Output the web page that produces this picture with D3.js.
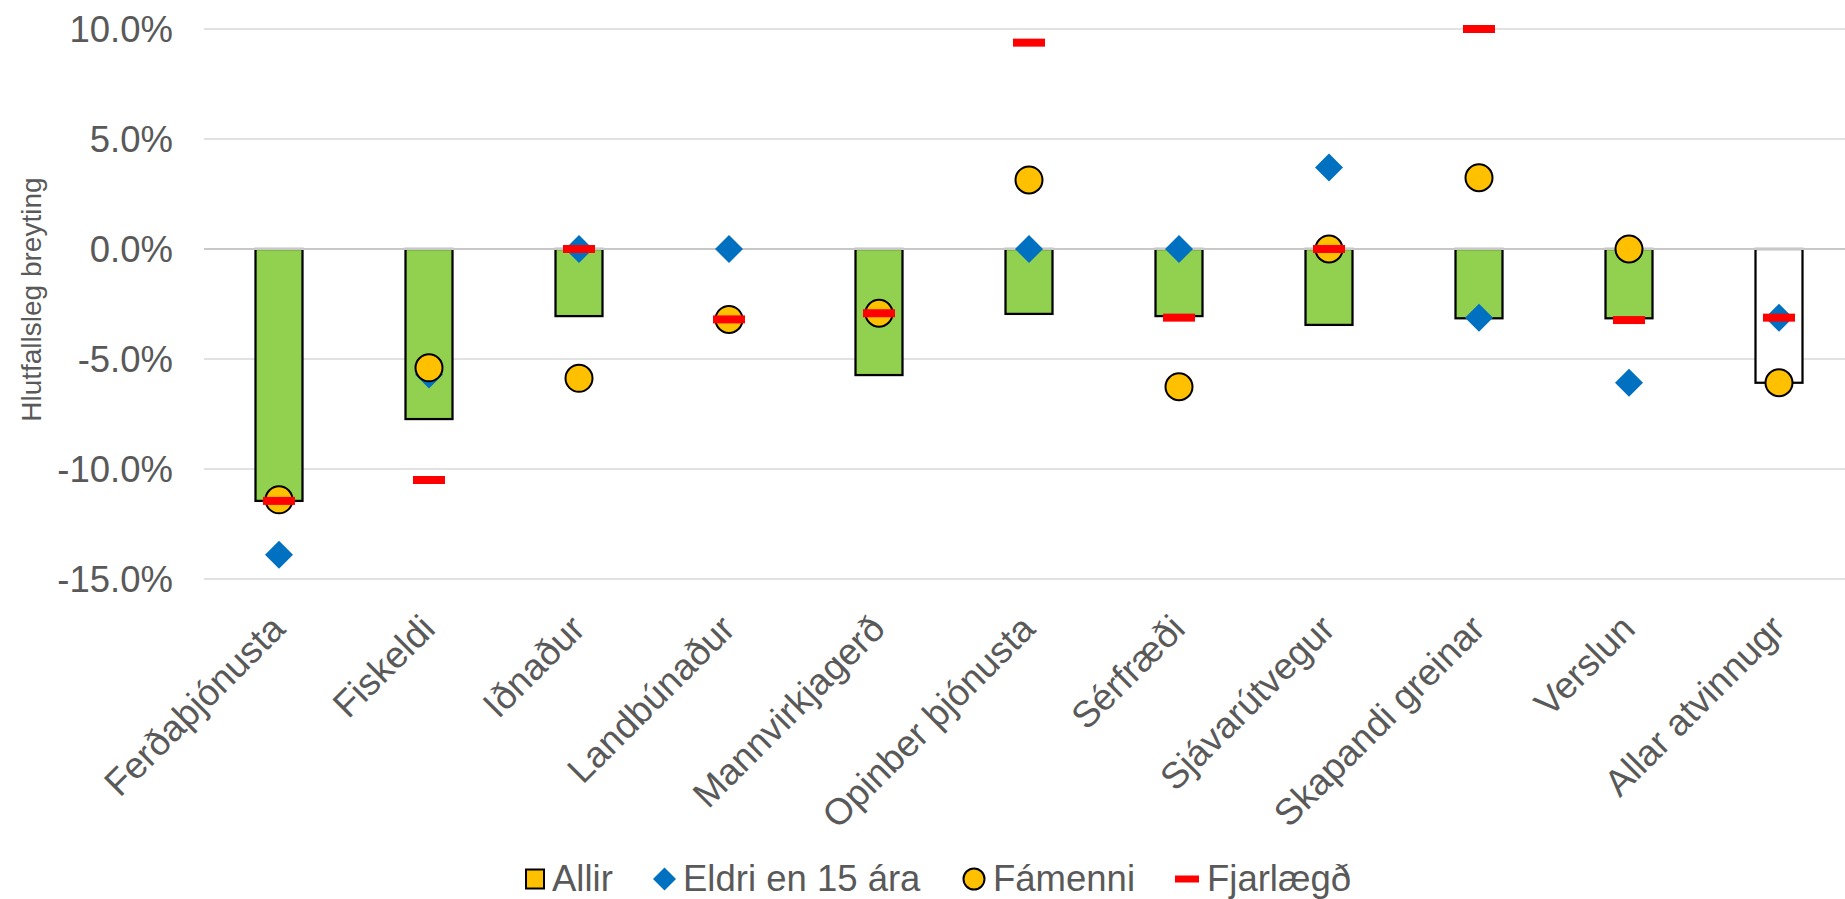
<!DOCTYPE html>
<html>
<head>
<meta charset="utf-8">
<script src="https://cdn.jsdelivr.net/npm/d3@7"></script>
<style>
  html, body { margin: 0; padding: 0; background: #ffffff; }
  svg { display: block; font-family: Arial, "Liberation Sans", sans-serif; }
</style>
</head>
<body>
<svg id="chart" width="1845" height="899"></svg>
<script>
const categories = ["Ferðaþjónusta", "Fiskeldi", "Iðnaður", "Landbúnaður", "Mannvirkjagerð",
  "Opinber þjónusta", "Sérfræði", "Sjávarútvegur", "Skapandi greinar", "Verslun", "Allar atvinnugr"];
const allir     = [-11.45, -7.73, -3.05, 0.0, -5.73, -2.95, -3.05, -3.45, -3.15, -3.15, -6.08];
const eldri     = [-13.9, -5.7, 0.0, 0.0, -2.9, 0.0, 0.0, 3.7, -3.12, -6.08, -3.12];
const famenni   = [-11.4, -5.4, -5.88, -3.2, -2.92, 3.14, -6.26, 0.0, 3.24, 0.0, -6.08];
const fjarlaegd = [-11.45, -10.5, 0.0, -3.2, -2.92, 9.38, -3.12, 0.0, 10.0, -3.23, -3.12];
const barFillTotal = "Allar atvinnugr";
const yTicks = [10, 5, 0, -5, -10, -15];
const yTickLabels = ["10.0%", "5.0%", "0.0%", "-5.0%", "-10.0%", "-15.0%"];
const yTitle = "Hlutfallsleg breyting";
const legendLabels = ["Allir", "Eldri en 15 ára", "Fámenni", "Fjarlægð"];

const svg = d3.select("#chart");
const textColor = "#595959";

const x = d3.scaleBand().domain(categories).range([204, 1854]).paddingInner(0).paddingOuter(0);
const y = d3.scaleLinear().domain([-15, 10]).range([579, 29]);
const barW = 47;

// gridlines
svg.append("g").selectAll("line").data(yTicks).join("line")
  .attr("x1", 204).attr("x2", 1845)
  .attr("y1", d => y(d)).attr("y2", d => y(d))
  .attr("stroke", "#d9d9d9").attr("stroke-width", 1.5);

// y-axis labels via d3 axis
const yAxis = d3.axisLeft(y).tickValues(yTicks).tickSize(0).tickPadding(0)
  .tickFormat((d, i) => yTickLabels[i]);
const gy = svg.append("g").attr("transform", "translate(173,0)").call(yAxis);
gy.select(".domain").remove();
gy.selectAll("text").attr("fill", textColor).style("font-size", "36.5px")
  .style("font-family", "Arial, 'Liberation Sans', sans-serif").attr("dy", "0.35em");

// y title
svg.append("text")
  .attr("transform", `translate(41,${y(-2.3)}) rotate(-90)`)
  .attr("text-anchor", "middle")
  .attr("fill", textColor).style("font-size", "28px")
  .text(yTitle);

// bars
svg.append("g").selectAll("rect").data(categories).join("rect")
  .attr("x", d => x(d) + x.bandwidth() / 2 - barW / 2)
  .attr("width", barW)
  .attr("y", (d, i) => Math.min(y(0), y(allir[i])))
  .attr("height", (d, i) => Math.abs(y(allir[i]) - y(0)))
  .attr("fill", d => d === barFillTotal ? "#ffffff" : "#92D050")
  .attr("stroke", (d, i) => allir[i] === 0 ? "none" : "#000000")
  .attr("stroke-width", 2.25);

// zero line on top of bars
svg.append("line").attr("x1", 204).attr("x2", 1845).attr("y1", y(0)).attr("y2", y(0))
  .attr("stroke", "#c8c8c8").attr("stroke-width", 2);

const cx = d => x(d) + x.bandwidth() / 2;

// diamonds
const dm = 14;
svg.append("g").selectAll("path").data(categories).join("path")
  .attr("d", (d, i) => {
    const px = cx(d), py = y(eldri[i]);
    return `M${px},${py - dm} L${px + dm},${py} L${px},${py + dm} L${px - dm},${py} Z`;
  })
  .attr("fill", "#0070C0");

// circles
svg.append("g").selectAll("circle").data(categories).join("circle")
  .attr("cx", d => cx(d)).attr("cy", (d, i) => y(famenni[i])).attr("r", 13.5)
  .attr("fill", "#FFC000").attr("stroke", "#000").attr("stroke-width", 2);

// red dashes
svg.append("g").selectAll("rect").data(categories).join("rect")
  .attr("x", d => cx(d) - 16).attr("width", 32)
  .attr("y", (d, i) => y(fjarlaegd[i]) - 4).attr("height", 8)
  .attr("fill", "#FF0000");

// x labels
svg.append("g").selectAll("text").data(categories).join("text")
  .attr("transform", d => `translate(${cx(d) + 8},631) rotate(-45)`)
  .attr("text-anchor", "end")
  .attr("fill", textColor).style("font-size", "37px")
  .text(d => d);

// legend
const ly = 879;
const lg = svg.append("g");
lg.append("rect").attr("x", 526).attr("y", ly - 9.5).attr("width", 18).attr("height", 19)
  .attr("fill", "#FFC000").attr("stroke", "#000").attr("stroke-width", 2);
lg.append("path").attr("d", `M664.5,${ly - 11.5} L676,${ly} L664.5,${ly + 11.5} L653,${ly} Z`).attr("fill", "#0070C0");
lg.append("circle").attr("cx", 974).attr("cy", ly).attr("r", 10.5).attr("fill", "#FFC000")
  .attr("stroke", "#000").attr("stroke-width", 2);
lg.append("rect").attr("x", 1175).attr("y", ly - 3.5).attr("width", 24).attr("height", 7).attr("fill", "#FF0000");
const lx = [552, 683, 993, 1207];
lg.selectAll("text").data(legendLabels).join("text")
  .attr("x", (d, i) => lx[i]).attr("y", ly).attr("dy", "0.33em")
  .attr("fill", textColor).style("font-size", "36.5px")
  .text(d => d);
</script>
</body>
</html>
